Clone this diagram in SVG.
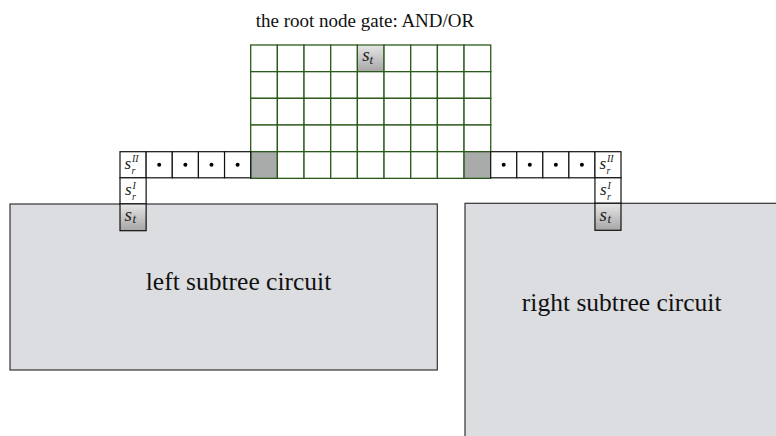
<svg xmlns="http://www.w3.org/2000/svg" width="776" height="436" viewBox="0 0 776 436">
<style>
.box{fill:#dcdde0;stroke:#333;stroke-width:1.2}
.big{font-family:"Liberation Serif",serif;font-size:25.5px;fill:#111;text-anchor:middle}
.title{font-family:"Liberation Serif",serif;font-size:19px;fill:#111;text-anchor:middle}
.g{fill:#fff;stroke:#2b5a1a;stroke-width:1.3}
.gg{fill:#a9aaaa;stroke:#2b5a1a;stroke-width:1.3}
.c{fill:#fff;stroke:#111;stroke-width:1.2}
.cs{fill:url(#sg);stroke:#111;stroke-width:1.2}
.m{font-family:"Liberation Serif",serif;font-style:italic;fill:#222}
.s1{font-size:19px}
.s2{font-size:17px}
.t1{font-size:13px}
.sub{font-size:10px}
.dot{fill:#000}
</style>
<defs>
<linearGradient id="sg" x1="0" y1="0" x2="0" y2="1">
<stop offset="0" stop-color="#e6e6e6"/>
<stop offset="1" stop-color="#a6a6a6"/>
</linearGradient>
</defs>
<text class="title" x="365" y="26.5">the root node gate: AND/OR</text>

<g id="left-subtree">
<rect class="box" x="10" y="204" width="427.3" height="166"/>
<text class="big" x="238.5" y="290">left subtree circuit</text>
</g>
<g id="right-subtree">
<rect class="box" x="465" y="203.3" width="320" height="240"/>
<text class="big" x="621.7" y="311">right subtree circuit</text>
</g>

<g id="root-gate">
<g id="grid">
<rect class="g" x="250.7" y="45" width="26.67" height="26.67"/><rect class="g" x="277.37" y="45" width="26.67" height="26.67"/><rect class="g" x="304.04" y="45" width="26.67" height="26.67"/><rect class="g" x="330.71" y="45" width="26.67" height="26.67"/><rect class="cs" style="stroke:#2b5a1a" x="357.38" y="45" width="26.67" height="26.67"/><rect class="g" x="384.05" y="45" width="26.67" height="26.67"/><rect class="g" x="410.72" y="45" width="26.67" height="26.67"/><rect class="g" x="437.39" y="45" width="26.67" height="26.67"/><rect class="g" x="464.06" y="45" width="26.67" height="26.67"/>
<rect class="g" x="250.7" y="71.67" width="26.67" height="26.67"/><rect class="g" x="277.37" y="71.67" width="26.67" height="26.67"/><rect class="g" x="304.04" y="71.67" width="26.67" height="26.67"/><rect class="g" x="330.71" y="71.67" width="26.67" height="26.67"/><rect class="g" x="357.38" y="71.67" width="26.67" height="26.67"/><rect class="g" x="384.05" y="71.67" width="26.67" height="26.67"/><rect class="g" x="410.72" y="71.67" width="26.67" height="26.67"/><rect class="g" x="437.39" y="71.67" width="26.67" height="26.67"/><rect class="g" x="464.06" y="71.67" width="26.67" height="26.67"/>
<rect class="g" x="250.7" y="98.34" width="26.67" height="26.67"/><rect class="g" x="277.37" y="98.34" width="26.67" height="26.67"/><rect class="g" x="304.04" y="98.34" width="26.67" height="26.67"/><rect class="g" x="330.71" y="98.34" width="26.67" height="26.67"/><rect class="g" x="357.38" y="98.34" width="26.67" height="26.67"/><rect class="g" x="384.05" y="98.34" width="26.67" height="26.67"/><rect class="g" x="410.72" y="98.34" width="26.67" height="26.67"/><rect class="g" x="437.39" y="98.34" width="26.67" height="26.67"/><rect class="g" x="464.06" y="98.34" width="26.67" height="26.67"/>
<rect class="g" x="250.7" y="125.01" width="26.67" height="26.67"/><rect class="g" x="277.37" y="125.01" width="26.67" height="26.67"/><rect class="g" x="304.04" y="125.01" width="26.67" height="26.67"/><rect class="g" x="330.71" y="125.01" width="26.67" height="26.67"/><rect class="g" x="357.38" y="125.01" width="26.67" height="26.67"/><rect class="g" x="384.05" y="125.01" width="26.67" height="26.67"/><rect class="g" x="410.72" y="125.01" width="26.67" height="26.67"/><rect class="g" x="437.39" y="125.01" width="26.67" height="26.67"/><rect class="g" x="464.06" y="125.01" width="26.67" height="26.67"/>
<rect class="gg" x="250.7" y="151.68" width="26.67" height="26.67"/><rect class="g" x="277.37" y="151.68" width="26.67" height="26.67"/><rect class="g" x="304.04" y="151.68" width="26.67" height="26.67"/><rect class="g" x="330.71" y="151.68" width="26.67" height="26.67"/><rect class="g" x="357.38" y="151.68" width="26.67" height="26.67"/><rect class="g" x="384.05" y="151.68" width="26.67" height="26.67"/><rect class="g" x="410.72" y="151.68" width="26.67" height="26.67"/><rect class="g" x="437.39" y="151.68" width="26.67" height="26.67"/><rect class="gg" x="464.06" y="151.68" width="26.67" height="26.67"/>
</g>
<text class="m s1" x="362.3" y="61">s</text>
<text class="m t1" x="369.5" y="63.5">t</text>
</g>

<g id="left-chain">
<rect class="c" x="120" y="151.7" width="26.14" height="26.1"/>
<rect class="c" x="146.14" y="151.7" width="26.14" height="26.1"/>
<rect class="c" x="172.28" y="151.7" width="26.14" height="26.1"/>
<rect class="c" x="198.42" y="151.7" width="26.14" height="26.1"/>
<rect class="c" x="224.56" y="151.7" width="26.14" height="26.1"/>
<circle class="dot" cx="159.2" cy="164.8" r="2"/><circle class="dot" cx="185.35" cy="164.8" r="2"/><circle class="dot" cx="211.5" cy="164.8" r="2"/><circle class="dot" cx="237.6" cy="164.8" r="2"/>
<rect class="c" x="120" y="177.8" width="26.14" height="26.1"/>
<rect class="cs" x="120" y="203.9" width="26.14" height="26.8"/>
<text class="m s2" x="124.5" y="168.5">s</text>
<text class="m sub" x="132" y="161.5">II</text>
<text class="m sub" x="131.5" y="173.5">r</text>
<text class="m s2" x="125" y="195">s</text>
<text class="m sub" x="132.5" y="188.5">I</text>
<text class="m sub" x="132" y="200">r</text>
<text class="m s1" x="124.5" y="221">s</text>
<text class="m t1" x="132.5" y="223">t</text>
</g>

<g id="right-chain">
<rect class="c" x="490.7" y="151.7" width="26.06" height="26.1"/>
<rect class="c" x="516.76" y="151.7" width="26.06" height="26.1"/>
<rect class="c" x="542.82" y="151.7" width="26.06" height="26.1"/>
<rect class="c" x="568.88" y="151.7" width="26.06" height="26.1"/>
<rect class="c" x="594.94" y="151.7" width="26.06" height="26.1"/>
<circle class="dot" cx="503.7" cy="164.8" r="2"/><circle class="dot" cx="529.8" cy="164.8" r="2"/><circle class="dot" cx="555.85" cy="164.8" r="2"/><circle class="dot" cx="581.9" cy="164.8" r="2"/>
<rect class="c" x="594.94" y="177.8" width="26.06" height="25.5"/>
<rect class="cs" x="594.94" y="203.3" width="26.06" height="27"/>
<text class="m s2" x="599.5" y="168.5">s</text>
<text class="m sub" x="607" y="161.5">II</text>
<text class="m sub" x="606.5" y="173.5">r</text>
<text class="m s2" x="600" y="195">s</text>
<text class="m sub" x="607.5" y="188.5">I</text>
<text class="m sub" x="607" y="200">r</text>
<text class="m s1" x="599.5" y="221">s</text>
<text class="m t1" x="607.5" y="223">t</text>
</g>

<g id="connectors"></g>
</svg>
